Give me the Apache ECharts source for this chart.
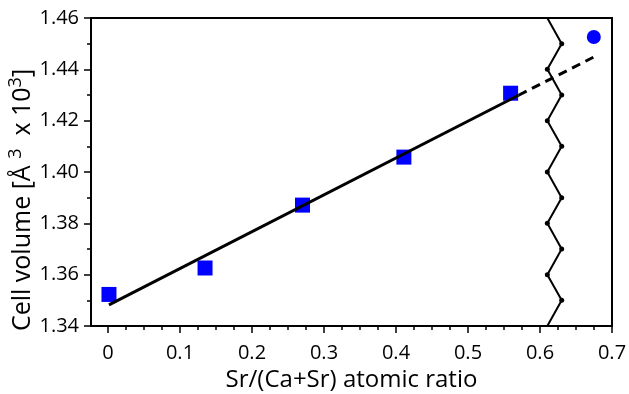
<!DOCTYPE html>
<html>
<head>
<meta charset="utf-8">
<script src="https://cdn.jsdelivr.net/npm/echarts@6/dist/echarts.min.js"></script>
<style>
html,body{margin:0;padding:0;background:#fff;}
#c{width:629px;height:394px;}
</style>
</head>
<body>
<div id="c"></div>
<script>
// Measured data (Sr/(Ca+Sr) ratio vs cell volume)
const ratioX = [0, 0.1337, 0.2693, 0.4104, 0.5589];
const volumeY = [1.3523, 1.3626, 1.3871, 1.4058, 1.4307];
const extraX = [0.6747];
const extraY = [1.4526];
// linear fit (solid part and dashed extrapolation)
const fitSolidX = [0, 0.57];
const fitSolidY = [1.3482, 1.4299];
const fitDashX = [0.57, 0.674];
const fitDashY = [1.4299, 1.4447];
// zigzag break line
const breakX = [0.61, 0.63, 0.61, 0.63, 0.61, 0.63, 0.61, 0.63, 0.61, 0.63, 0.61, 0.63, 0.61];
const breakY = [1.46, 1.45, 1.44, 1.43, 1.42, 1.41, 1.40, 1.39, 1.38, 1.37, 1.36, 1.35, 1.34];
const xTicks = ['0', '0.1', '0.2', '0.3', '0.4', '0.5', '0.6', '0.7'];
const yTicks = ['1.34', '1.36', '1.38', '1.40', '1.42', '1.44', '1.46'];

const FONT = 'Open Sans';
const zip = (a, b) => a.map((v, i) => [v, b[i]]);
const breakData = breakX.map((v, i) => ({
  value: [v, breakY[i]],
  symbolSize: (i === 0 || i === breakX.length - 1) ? 0 : 5
}));

const chart = echarts.init(document.getElementById('c'), null, {renderer: 'canvas'});
chart.setOption({
  animation: false,
  backgroundColor: '#fff',
  grid: [
    {left: 91, right: 17, top: 18, bottom: 68, show: true, borderColor: '#000', borderWidth: 2,
     backgroundColor: 'transparent', containLabel: false, outerBoundsMode: 'none'},
    {left: 108, right: 17, top: 18, bottom: 68, containLabel: false, outerBoundsMode: 'none'}
  ],
  xAxis: [
    {
      gridIndex: 0, type: 'value', min: -0.025, max: 0.7,
      axisLine: {show: true, onZero: false, lineStyle: {color: '#000', width: 2}},
      axisTick: {show: false}, axisLabel: {show: false}, splitLine: {show: false},
      name: 'Sr/(Ca+Sr) atomic ratio', nameLocation: 'middle', nameGap: 42, nameMoveOverlap: false,
      nameTextStyle: {fontFamily: FONT, fontSize: 24, color: '#000'}
    },
    {
      gridIndex: 1, type: 'value', min: 0, max: 0.7, interval: 0.1,
      axisLine: {show: false, onZero: false},
      axisTick: {show: true, inside: false, length: 7, lineStyle: {color: '#000', width: 1.5}},
      minorTick: {show: true, splitNumber: 4, length: 4, lineStyle: {color: '#000', width: 1.5}},
      splitLine: {show: false}, minorSplitLine: {show: false},
      axisLabel: {
        margin: 17, fontFamily: FONT, fontSize: 20, color: '#000',
        formatter: v => xTicks[Math.round(v * 10)]
      }
    }
  ],
  yAxis: [
    {
      gridIndex: 0, type: 'value', min: 1.34, max: 1.46, interval: 0.02,
      axisLine: {show: true, onZero: false, lineStyle: {color: '#000', width: 2}},
      axisTick: {show: true, inside: false, length: 7, lineStyle: {color: '#000', width: 1.5}},
      minorTick: {show: true, splitNumber: 2, length: 4, lineStyle: {color: '#000', width: 1.5}},
      splitLine: {show: false}, minorSplitLine: {show: false},
      axisLabel: {
        margin: 12, fontFamily: FONT, fontSize: 20, color: '#000',
        formatter: v => yTicks[Math.round((v - 1.34) / 0.02)]
      },
      name: '{a|Cell volume [Å }{s|3}{a|  x 10}{s|3}{a|]}',
      nameLocation: 'middle', nameGap: 52, nameRotate: 90, nameMoveOverlap: false,
      nameTextStyle: {
        fontFamily: FONT, fontSize: 25, color: '#000', padding: [0, 56, 0, 0],
        rich: {
          a: {fontFamily: FONT, fontSize: 25, color: '#000'},
          s: {fontFamily: FONT, fontSize: 18, color: '#000', padding: [0, 0, 14, 0]}
        }
      }
    },
    {gridIndex: 1, type: 'value', min: 1.34, max: 1.46, show: false,
     axisLine: {show: false, onZero: false}}
  ],
  series: [
    {
      type: 'line', xAxisIndex: 0, yAxisIndex: 0, data: zip(fitSolidX, fitSolidY),
      symbol: 'none', lineStyle: {color: '#000', width: 3}, z: 3
    },
    {
      type: 'line', xAxisIndex: 0, yAxisIndex: 0, data: zip(fitDashX, fitDashY),
      symbol: 'none', lineStyle: {color: '#000', width: 3, type: [9, 6]}, z: 3
    },
    {
      type: 'line', xAxisIndex: 0, yAxisIndex: 0, data: breakData,
      symbol: 'circle', symbolSize: 5, showAllSymbol: true,
      itemStyle: {color: '#000'}, lineStyle: {color: '#000', width: 2}, z: 4
    },
    {
      type: 'scatter', xAxisIndex: 0, yAxisIndex: 0, data: zip(ratioX, volumeY),
      symbol: 'rect', symbolSize: 15, itemStyle: {color: '#0000ff', opacity: 1}, z: 2
    },
    {
      type: 'scatter', xAxisIndex: 0, yAxisIndex: 0, data: zip(extraX, extraY),
      symbol: 'circle', symbolSize: 14, itemStyle: {color: '#0000ff', opacity: 1}, z: 2
    }
  ]
});
</script>
</body>
</html>
